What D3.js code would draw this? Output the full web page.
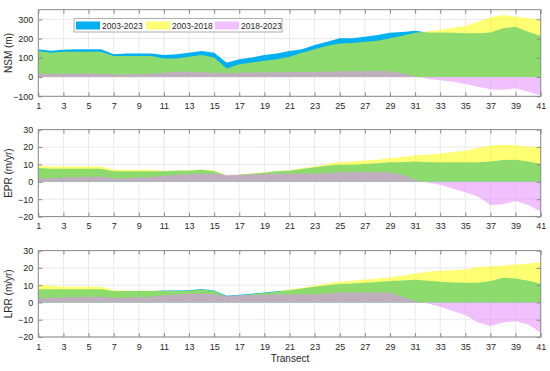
<!DOCTYPE html>
<html><head><meta charset="utf-8">
<script src="https://cdn.jsdelivr.net/npm/d3@7/dist/d3.min.js"></script>
<style>body{margin:0;background:#fff}svg{display:block}</style>
</head><body>
<svg id="c" width="550" height="371"></svg>
<script>
// ---- data ----
const transects = [1,2,3,4,5,6,7,8,9,10,11,12,13,14,15,16,17,18,19,20,21,22,23,24,25,26,27,28,29,30,31,32,33,34,35,36,37,38,39,40,41];
const xTickValues = [1,3,5,7,9,11,13,15,17,19,21,23,25,27,29,31,33,35,37,39,41];
const seriesNames = ["2003-2023","2003-2018","2018-2023"];

const nsm_2003_2023 = [145,137,142,145,145,145,118,123,123,123,114,118,126,135,126,74,92,102,114,123,135,145,166,184,201,201,210,218,230,234,241,232,232,230,228,228,232,253,261,235,213];
const nsm_2003_2018 = [135,126,131,131,131,131,109,109,109,109,97,97,106,114,102,45,66,76,85,92,106,126,144,163,175,177,184,189,201,215,230,238,244,256,265,287,310,322,313,305,301];
const nsm_2018_2023 = [18,17,17,18,18,17,15,15,16,17,22,28,28,25,22,20,22,24,25,25,26,26,26,28,30,30,32,32,30,20,6,-9,-16,-24,-36,-50,-64,-66,-58,-76,-94];

const epr_2003_2023 = [7.9,7.5,7.5,7.5,7.5,7.5,6.0,6.0,6.0,6.0,6.0,6.3,6.3,6.9,6.0,3.5,4.0,4.6,5.2,6.0,6.3,7.3,8.3,9.2,9.8,9.8,10.2,10.6,11.2,11.3,11.7,11.3,11.3,11.2,11.2,11.2,11.7,12.5,12.7,11.7,10.4];
const epr_2003_2018 = [9.2,8.8,8.8,8.8,8.8,8.8,6.9,6.9,6.9,6.9,6.3,6.5,6.6,7.1,6.5,3.8,4.3,4.9,5.5,6.2,6.7,7.9,8.8,10.2,11.3,11.7,12.3,12.7,13.7,14.2,15.2,15.6,16.3,17.1,17.9,19.4,20.8,21.3,21.0,20.2,20.2];
const epr_2018_2023 = [2.1,2.1,2.5,2.7,2.9,3.1,2.1,2.1,2.5,2.7,3.5,4.0,4.4,4.8,4.8,4.0,4.0,4.3,4.5,4.6,4.6,4.7,4.8,5.0,5.5,5.6,5.6,5.6,5.5,4.0,1.2,-0.4,-1.7,-4.0,-6.0,-8.5,-13.3,-12.9,-11.0,-13.3,-17.1];

const lrr_2003_2023 = [7.7,7.7,7.7,7.7,7.7,7.7,6.6,6.6,6.6,6.6,6.9,6.9,7.1,7.8,6.9,3.8,4.5,5.1,5.7,6.5,7.1,8.1,9.1,10.0,10.6,11.0,11.4,11.8,12.4,12.7,13.1,12.5,12.0,11.6,11.4,11.4,12.4,14.3,13.9,12.5,11.0];
const lrr_2003_2018 = [10.4,9.7,9.1,9.1,9.1,9.1,7.1,6.8,6.8,6.8,6.6,6.6,6.8,7.5,6.6,3.5,4.2,4.8,5.4,6.2,7.5,8.5,9.7,11.0,12.0,12.5,13.3,13.9,14.5,15.4,16.8,17.8,18.3,18.7,19.1,20.3,21.0,21.2,22.0,22.6,23.2];
const lrr_2018_2023 = [2.3,2.7,2.9,3.1,3.3,3.3,2.7,2.7,3.1,3.3,4.2,4.6,5.0,5.2,4.8,3.7,4.2,4.3,4.5,4.8,4.6,4.7,4.8,5.2,5.8,5.8,5.8,5.8,5.8,3.3,1.0,-0.6,-2.5,-5.0,-7.3,-11.6,-13.7,-11.6,-10.8,-12.7,-17.4];

const nsmTicks = [-100,0,100,200,300];
const rateTicks = [-20,-10,0,10,20,30];

// ---- style ----
const fills = [
  {color:"rgb(0,176,240)", opacity:1},
  {color:"rgb(255,255,0)", opacity:0.55},
  {color:"rgb(230,140,255)", opacity:0.55}
];
const textColor = "#262626";
const axisColor = "#8a8a8a";
const gridColor = "#e9e9e9";
const font = "'Liberation Sans', Arial, Helvetica, sans-serif";

const svg = d3.select("#c");
const x = d3.scaleLinear().domain([1,41]).range([38.3,540.7]);

const panels = [
  {label:"NSM (m)", top:9.7, bottom:96.3, domain:[-100,350], ticks:nsmTicks, data:[nsm_2003_2023,nsm_2003_2018,nsm_2018_2023]},
  {label:"EPR (m/yr)", top:129.6, bottom:216.6, domain:[-20,30], ticks:rateTicks, data:[epr_2003_2023,epr_2003_2018,epr_2018_2023]},
  {label:"LRR (m/yr)", top:250.6, bottom:337, domain:[-20,30], ticks:rateTicks, data:[lrr_2003_2023,lrr_2003_2018,lrr_2018_2023]}
];

panels.forEach((p, pi) => {
  const y = d3.scaleLinear().domain(p.domain).range([p.bottom, p.top]);
  const g = svg.append("g");
  const [x0, x1] = x.range();
  // grid
  g.selectAll(".gx").data(xTickValues).join("line")
    .attr("x1", d => x(d)).attr("x2", d => x(d))
    .attr("y1", p.top).attr("y2", p.bottom)
    .attr("stroke", gridColor).attr("stroke-width", 1);
  g.selectAll(".gy").data(p.ticks).join("line")
    .attr("x1", x0).attr("x2", x1)
    .attr("y1", d => y(d)).attr("y2", d => y(d))
    .attr("stroke", gridColor).attr("stroke-width", 1);
  // areas
  p.data.forEach((vals, si) => {
    const area = d3.area()
      .x((d, i) => x(transects[i]))
      .y0(y(0))
      .y1(d => y(d));
    g.append("path").datum(vals)
      .attr("d", area)
      .attr("fill", fills[si].color)
      .attr("fill-opacity", fills[si].opacity)
      .attr("stroke", "none");
  });
  // axes
  const ax = g.append("g").attr("transform", `translate(0,${p.bottom})`)
    .call(d3.axisBottom(x).tickValues(xTickValues).tickSize(-4).tickPadding(6.5).tickFormat(d3.format("d")));
  const axTop = g.append("g").attr("transform", `translate(0,${p.top})`)
    .call(d3.axisTop(x).tickValues(xTickValues).tickSize(-4).tickFormat(""));
  const ay = g.append("g").attr("transform", `translate(${x0},0)`)
    .call(d3.axisLeft(y).tickValues(p.ticks).tickSize(-4).tickPadding(5).tickFormat(d3.format("d")));
  const ayR = g.append("g").attr("transform", `translate(${x1},0)`)
    .call(d3.axisRight(y).tickValues(p.ticks).tickSize(-4).tickFormat(""));
  [ax, axTop, ay, ayR].forEach(a => {
    a.select(".domain").remove();
    a.selectAll("line").attr("stroke", axisColor);
    a.selectAll("text").attr("fill", textColor).style("font-family", font).style("font-size", "9px");
  });
  // box
  g.append("rect").attr("x", x0).attr("y", p.top).attr("width", x1 - x0).attr("height", p.bottom - p.top)
    .attr("fill", "none").attr("stroke", axisColor).attr("stroke-width", 1);
  // y label
  g.append("text")
    .attr("transform", `translate(11.5,${(p.top + p.bottom) / 2}) rotate(-90)`)
    .attr("text-anchor", "middle")
    .attr("fill", textColor).style("font-family", font).style("font-size", "10px")
    .text(p.label);
});

// x label
svg.append("text").attr("x", 290).attr("y", 361.8).attr("text-anchor", "middle")
  .attr("fill", textColor).style("font-family", font).style("font-size", "10px").text("Transect");

// legend
const lg = svg.append("g");
lg.append("rect").attr("x", 74).attr("y", 18.5).attr("width", 208).attr("height", 13.5)
  .attr("fill", "#fff").attr("stroke", "#9a9a9a").attr("stroke-width", 0.8);
const legendX = [76, 146, 215];
seriesNames.forEach((name, i) => {
  lg.append("rect").attr("x", legendX[i]).attr("y", 21.5).attr("width", 24).attr("height", 8)
    .attr("fill", fills[i].color).attr("fill-opacity", fills[i].opacity);
  lg.append("text").attr("x", legendX[i] + 26).attr("y", 28.6)
    .attr("fill", textColor).style("font-family", font).style("font-size", "8.5px").text(name);
});
</script>
</body></html>
